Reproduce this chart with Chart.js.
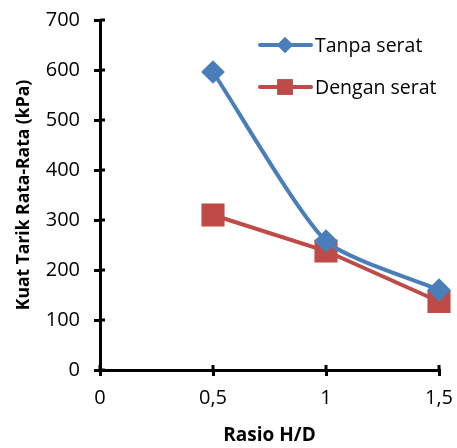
<!DOCTYPE html>
<html>
<head>
<meta charset="utf-8">
<script src="https://cdn.jsdelivr.net/npm/chart.js@4.4.1/dist/chart.umd.min.js"></script>
<style>
  html, body { margin: 0; padding: 0; background: #fff; }
  #wrap { width: 457px; height: 448px; }
</style>
</head>
<body>
<div id="wrap"><canvas id="myChart" width="457" height="448"></canvas></div>
<script>
// data dari grafik
const rasio = [0.5, 1, 1.5]
const tanpaSerat = [596, 258, 160]
const denganSerat = [310, 238, 137]
const xTicks = [0, 0.5, 1, 1.5]
const yTicks = [0, 100, 200, 300, 400, 500, 600, 700]

const FONT = "'Open Sans', sans-serif"
const BLUE = '#4a7ebb'
const RED = '#be4b48'

// legend digambar sendiri di dalam area chart
const legendInside = {
  id: 'legendInside',
  afterDatasetsDraw(chart) {
    const ctx = chart.ctx
    const rows = [{ y: 45 }, { y: 87 }]
    chart.data.datasets.forEach((ds, i) => {
      const y = rows[i].y
      ctx.save()
      ctx.strokeStyle = ds.borderColor
      ctx.lineWidth = 4
      ctx.lineCap = 'round'
      ctx.beginPath()
      ctx.moveTo(260, y)
      ctx.lineTo(311, y)
      ctx.stroke()
      Chart.helpers.drawPoint(ctx, {
        pointStyle: ds.pointStyle,
        radius: ds.legendRadius,
        borderWidth: 0
      }, 285, y)
      ctx.fillStyle = ds.backgroundColor
      ctx.fill()
      ctx.fillStyle = '#000'
      ctx.font = '19.5px ' + FONT
      ctx.textBaseline = 'middle'
      ctx.fillText(ds.label, 315, y + 1)
      ctx.restore()
    })
  }
}

// tick yg menembus sumbu
const crossTicks = {
  id: 'crossTicks',
  afterDraw(chart) {
    const ctx = chart.ctx
    const xs = chart.scales.x, ys = chart.scales.y
    ctx.save()
    ctx.strokeStyle = '#000'
    ctx.lineWidth = 3
    xTicks.forEach(v => {
      const px = xs.getPixelForValue(v)
      ctx.beginPath()
      ctx.moveTo(px, ys.bottom)
      ctx.lineTo(px, ys.bottom - 5)
      ctx.stroke()
    })
    yTicks.forEach(v => {
      const py = ys.getPixelForValue(v)
      ctx.beginPath()
      ctx.moveTo(xs.left, py)
      ctx.lineTo(xs.left + 5, py)
      ctx.stroke()
    })
    ctx.restore()
  }
}

const data = {
  datasets: [{
    label: 'Tanpa serat',
    data: rasio.map((x, i) => ({ x: x, y: tanpaSerat[i] })),
    borderColor: BLUE,
    backgroundColor: BLUE,
    borderWidth: 4,
    tension: 0.2,
    clip: false,
    pointStyle: 'rectRot',
    pointRadius: 9,
    pointHoverRadius: 9,
    legendRadius: 8
  }, {
    label: 'Dengan serat',
    data: rasio.map((x, i) => ({ x: x, y: denganSerat[i] })),
    borderColor: RED,
    backgroundColor: RED,
    borderWidth: 4,
    tension: 0,
    clip: false,
    pointStyle: 'rect',
    pointRadius: 13.5,
    pointHoverRadius: 13.5,
    legendRadius: 11
  }]
}

const config = {
  type: 'line',
  data: data,
  plugins: [legendInside, crossTicks],
  options: {
    responsive: false,
    animation: false,
    layout: { padding: { left: 0, right: 18, top: 20, bottom: 0 } },
    plugins: { legend: { display: false }, tooltip: { enabled: false } },
    scales: {
      x: {
        type: 'linear',
        min: 0, max: 1.5,
        afterFit: s => { s.height = 78; s.paddingLeft = 0; s.paddingRight = 0 },
        afterBuildTicks: s => { s.ticks = xTicks.map(v => ({ value: v })) },
        border: { color: '#000', width: 3 },
        grid: { drawOnChartArea: false, color: '#000', lineWidth: 3, tickLength: 6 },
        ticks: {
          color: '#000',
          font: { family: FONT, size: 20 },
          padding: 10,
          maxRotation: 0,
          callback: v => String(v).replace('.', ',')
        },
        title: {
          display: true,
          text: 'Rasio H/D',
          color: '#000',
          font: { family: FONT, size: 19, weight: 'bold' },
          padding: { top: 0, bottom: 1 }
        }
      },
      y: {
        min: 0, max: 700,
        afterFit: s => { s.width = 100; s.paddingTop = 0; s.paddingBottom = 0 },
        afterBuildTicks: s => { s.ticks = yTicks.map(v => ({ value: v })) },
        border: { color: '#000', width: 3 },
        grid: { drawOnChartArea: false, color: '#000', lineWidth: 3, tickLength: 6 },
        ticks: {
          color: '#000',
          font: { family: FONT, size: 20 },
          padding: 14
        },
        title: {
          display: true,
          text: 'Kuat Tarik Rata-Rata (kPa)',
          color: '#000',
          font: { family: FONT, size: 17.5, weight: 'bold' },
          padding: { top: 14, bottom: 0 }
        }
      }
    }
  }
}

const myChart = new Chart(document.getElementById('myChart'), config)
</script>
</body>
</html>
